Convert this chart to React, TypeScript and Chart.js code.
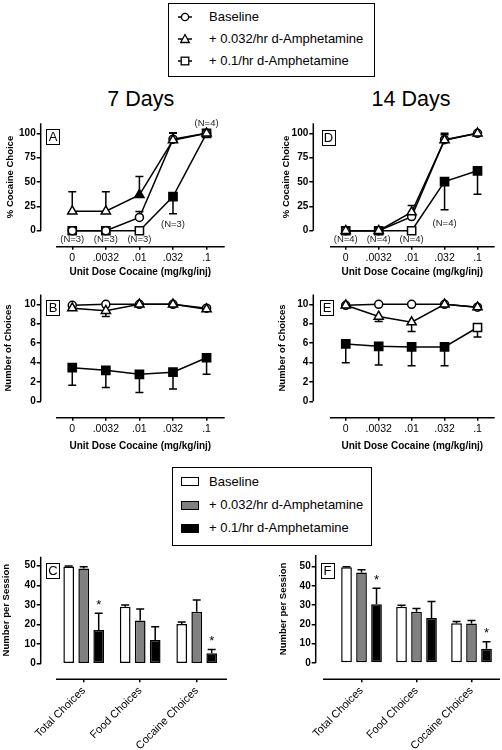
import React, { useEffect, useRef } from 'react';
import { Chart, registerables } from 'chart.js';
Chart.register(...registerables);

const FONT = "'Liberation Sans', Arial, Helvetica, sans-serif";
Chart.defaults.font.family = FONT;
Chart.defaults.color = '#000';

// ---------------- data ----------------
const SERIES_NAMES = ['Baseline', '+ 0.032/hr d-Amphetamine', '+ 0.1/hr d-Amphetamine'];
const PANEL_TITLES = ['7 Days', '14 Days'];
const DOSE_LABELS = ['0', '.0032', '.01', '.032', '.1'];
const DOSE_AXIS_TITLE = 'Unit Dose Cocaine (mg/kg/inj)';
const PCT_TITLE = '% Cocaine Choice';
const NUM_TITLE = 'Number of Choices';
const SESSION_TITLE = 'Number per Session';
const PCT_TICKS = [0, 25, 50, 75, 100];
const NUM_TICKS = [0, 2, 4, 6, 8, 10];
const SESSION_TICKS = [0, 10, 20, 30, 40, 50];
const BAR_CATEGORIES = ['Total Choices', 'Food Choices', 'Cocaine Choices'];

// Panel A (7 days, % cocaine choice)
const A_BASE = [0, 0, 13.6, 94, 100];
const A_BASE_SEM = [0, 0, 6.2, 6, 0];
const A_LOW = [20, 20, 36.8, 93, 100];
const A_LOW_SEM = [20, 20, 18.8, 7.5, 0];
const A_LOW_SIG = [false, false, true, false, false];
const A_HIGH = [0, 0, 0, 35, 100];
const A_HIGH_SEM = [0, 0, 0, 17.6, 0];
const A_HIGH_SIG = [false, false, false, true, false];
const A_NOTES = [
  { i: 0, v: -8.8, t: '(N=3)' }, { i: 1, v: -8.8, t: '(N=3)' }, { i: 2, v: -8.8, t: '(N=3)' },
  { i: 3, v: 6.9, t: '(N=3)' }, { i: 4, v: 110.3, t: '(N=4)' },
];

// Panel D (14 days, % cocaine choice)
const D_BASE = [0, 0, 14.5, 93.5, 100];
const D_BASE_SEM = [0, 0, 3, 5, 0];
const D_LOW = [0, 0, 19, 93, 100];
const D_LOW_SEM = [0, 0, 7, 7, 0];
const D_LOW_SIG = [false, false, false, false, false];
const D_HIGH = [0, 0, 0, 50.5, 61.5];
const D_HIGH_SEM = [0, 0, 0, 29, 24];
const D_HIGH_SIG = [false, false, false, true, true];
const D_NOTES = [
  { i: 0, v: -8.8, t: '(N=4)' }, { i: 1, v: -8.8, t: '(N=4)' }, { i: 2, v: -8.8, t: '(N=4)' },
  { i: 3, v: 7.6, t: '(N=4)' },
];

// Panel B (7 days, number of choices)
const B_BASE = [9.9, 10, 10, 10, 9.6];
const B_BASE_SEM = [0.1, 0, 0, 0, 0.2];
const B_LOW = [9.6, 9.33, 10, 10, 9.5];
const B_LOW_SEM = [0.2, 0.6, 0, 0, 0.2];
const B_LOW_SIG = [false, false, false, false, false];
const B_HIGH = [3.47, 3.19, 2.78, 3.0, 4.49];
const B_HIGH_SEM = [1.81, 1.76, 1.86, 1.74, 1.7];
const B_HIGH_SIG = [true, true, true, true, true];

// Panel E (14 days, number of choices)
const E_BASE = [9.9, 10, 10, 10, 9.7];
const E_BASE_SEM = [0.1, 0, 0, 0, 0.1];
const E_LOW = [9.9, 8.74, 8.16, 10, 9.7];
const E_LOW_SEM = [0.1, 0.51, 0.96, 0, 0.1];
const E_LOW_SIG = [false, false, false, false, false];
const E_HIGH = [5.92, 5.67, 5.61, 5.61, 7.61];
const E_HIGH_SEM = [1.94, 1.94, 1.94, 1.94, 0.98];
const E_HIGH_SIG = [true, true, true, true, false];

// Panel C (7 days, bars)
const C_BASE = [49.6, 29.1, 20.3];
const C_BASE_SEM = [0.3, 0.8, 1.0];
const C_LOW = [48.6, 22.1, 26.5];
const C_LOW_SEM = [0.9, 5.8, 6.0];
const C_HIGH = [17.2, 12.1, 5.3];
const C_HIGH_SEM = [8.5, 6.8, 2.0];
const C_SIG = [true, false, true];

// Panel F (14 days, bars)
const F_BASE = [49.6, 29.1, 20.6];
const F_BASE_SEM = [0.3, 0.8, 0.9];
const F_LOW = [46.9, 26.5, 20.4];
const F_LOW_SEM = [1.5, 1.8, 1.6];
const F_HIGH = [30.5, 23.3, 7.4];
const F_HIGH_SEM = [8.3, 8.6, 3.6];
const F_SIG = [true, false, true];

// ---------------- styles / geometry ----------------
const BAR_COLORS = ['#ffffff', '#808080', '#000000'];
const SHAPES = [
  { style: 'circle', radius: 4, order: 2 },
  { style: 'triangle', radius: 5.3, order: 1 },
  { style: 'rect', radius: 5.8, order: 3 },
];

type Geo = {
  cl: number; ct: number; cw: number; ch: number;
  axisX: number; plotTop: number; lineY: number; plotRight: number;
  xMin: number; xMax: number; yMin: number; yMax: number;
  lineStart: number; yTitleX: number; xTitleY: number;
};

const GEO_A: Geo = { cl: 0, ct: 110, cw: 232, ch: 170, axisX: 40.7, plotTop: 123.3, lineY: 246.7, plotRight: 225.9, xMin: -0.94, xMax: 4.54, yMin: -16.4, yMax: 110.3, lineStart: 56, yTitleX: 10.8, xTitleY: 272.5 };
const GEO_D: Geo = { cl: 272, ct: 110, cw: 230, ch: 170, axisX: 313.3, plotTop: 123.3, lineY: 246.7, plotRight: 500, xMin: -0.985, xMax: 4.522, yMin: -16.4, yMax: 110.3, lineStart: 330, yTitleX: 286, xTitleY: 272.5 };
const GEO_B: Geo = { cl: 0, ct: 285, cw: 232, ch: 170, axisX: 40.7, plotTop: 294.6, lineY: 417.7, plotRight: 225.9, xMin: -0.94, xMax: 4.54, yMin: -1.69, yMax: 11, lineStart: 56, yTitleX: 8.3, xTitleY: 446 };
const GEO_E: Geo = { cl: 272, ct: 285, cw: 230, ch: 170, axisX: 313.3, plotTop: 294.6, lineY: 417.7, plotRight: 500, xMin: -0.985, xMax: 4.522, yMin: -1.69, yMax: 11, lineStart: 330, yTitleX: 282, xTitleY: 446 };
const GEO_C: Geo = { cl: 0, ct: 548, cw: 234, ch: 202, axisX: 40.7, plotTop: 556.7, lineY: 679.3, plotRight: 227, xMin: -0.761, xMax: 2.536, yMin: -7.96, yMax: 54.6, lineStart: 56, yTitleX: 6.3, xTitleY: 0 };
const GEO_F: Geo = { cl: 272, ct: 548, cw: 230, ch: 202, axisX: 315.7, plotTop: 554, lineY: 679.3, plotRight: 500, xMin: -0.833, xMax: 2.518, yMin: -8.5, yMax: 56, lineStart: 323, yTitleX: 283, xTitleY: 0 };

type Err = { values: number[]; sem: number[]; dir: 'up' | 'down' };
type Note = { i: number; v: number; t: string };

function makePlugin(geo: Geo, errs: Err[], yTitle: string, xTitle: string | null, notes: Note[], stars: boolean[] | null) {
  return {
    id: 'prism',
    beforeDatasetsDraw(chart: any) {
      const ctx = chart.ctx;
      const ys = chart.scales.y;
      ctx.save();
      ctx.strokeStyle = '#000';
      ctx.lineWidth = 1.5;
      errs.forEach((e, d) => {
        const meta = chart.getDatasetMeta(d);
        meta.data.forEach((el: any, i: number) => {
          const s = e.sem[i];
          if (!s) return;
          const v = e.values[i] + (e.dir === 'up' ? s : -s);
          const yp = ys.getPixelForValue(v);
          ctx.beginPath();
          ctx.moveTo(el.x, el.y);
          ctx.lineTo(el.x, yp);
          ctx.moveTo(el.x - 4, yp);
          ctx.lineTo(el.x + 4, yp);
          ctx.stroke();
        });
      });
      ctx.restore();
    },
    afterDraw(chart: any) {
      const ctx = chart.ctx;
      const ca = chart.chartArea;
      const ys = chart.scales.y;
      const xs = chart.scales.x;
      ctx.save();
      ctx.strokeStyle = '#000';
      ctx.lineWidth = 1.5;
      ctx.beginPath();
      ctx.moveTo(ca.left, ca.top);
      ctx.lineTo(ca.left, ys.getPixelForValue(0));
      ctx.moveTo(geo.lineStart - geo.cl, ca.bottom);
      ctx.lineTo(ca.right, ca.bottom);
      ctx.stroke();
      ctx.fillStyle = '#000';
      // y title
      const yc = (ca.top + ys.getPixelForValue(0)) / 2;
      ctx.save();
      ctx.translate(geo.yTitleX - geo.cl, yc);
      ctx.rotate(-Math.PI / 2);
      ctx.textAlign = 'center';
      ctx.textBaseline = 'middle';
      ctx.font = `bold 9.5px ${FONT}`;
      ctx.fillText(yTitle, 0, 0);
      ctx.restore();
      // x title
      if (xTitle) {
        ctx.textAlign = 'center';
        ctx.textBaseline = 'middle';
        ctx.font = `bold 10px ${FONT}`;
        ctx.fillText(xTitle, (geo.lineStart - geo.cl + ca.right) / 2, geo.xTitleY - geo.ct);
      }
      // notes
      ctx.font = `9.5px ${FONT}`;
      ctx.fillStyle = '#222';
      ctx.textAlign = 'center';
      ctx.textBaseline = 'middle';
      notes.forEach((n) => {
        ctx.fillText(n.t, xs.getPixelForValue(n.i), ys.getPixelForValue(n.v));
      });
      // stars
      if (stars) {
        ctx.fillStyle = '#000';
        ctx.font = `13px ${FONT}`;
        const meta = chart.getDatasetMeta(2);
        const e = errs[2];
        meta.data.forEach((el: any, i: number) => {
          if (!stars[i]) return;
          const yp = ys.getPixelForValue(e.values[i] + e.sem[i]);
          ctx.fillText('*', el.x, yp - 8);
        });
      }
      ctx.restore();
    },
  };
}

function baseScales(geo: Geo, xLabels: string[], yTicks: number[], xTickOpts: any) {
  return {
    x: {
      type: 'linear', min: geo.xMin, max: geo.xMax, bounds: 'data', offset: false,
      afterBuildTicks: (s: any) => { s.ticks = xLabels.map((_, i) => ({ value: i })); },
      afterFit: (s: any) => { s.height = geo.ct + geo.ch - geo.lineY; },
      ticks: { callback: (_v: any, i: number) => xLabels[i], autoSkip: false, color: '#000', ...xTickOpts },
      grid: { display: true, offset: false, drawOnChartArea: false, drawTicks: true, tickLength: 3, color: '#000', lineWidth: 1.5 },
      border: { display: false },
    },
    y: {
      type: 'linear', min: geo.yMin, max: geo.yMax, bounds: 'data',
      afterBuildTicks: (s: any) => { s.ticks = yTicks.map((v) => ({ value: v })); },
      afterFit: (s: any) => { s.width = geo.axisX - geo.cl; },
      ticks: { callback: (v: any) => String(v), padding: 1, font: { size: 10, weight: 'bold' }, color: '#000' },
      grid: { display: true, drawOnChartArea: false, drawTicks: true, tickLength: 4, color: '#000', lineWidth: 1.5 },
      border: { display: false },
    },
  };
}

function baseOptions(geo: Geo) {
  return {
    responsive: false,
    animation: false,
    devicePixelRatio: 1,
    events: [],
    layout: { padding: { top: geo.plotTop - geo.ct, right: geo.cl + geo.cw - geo.plotRight, left: 0, bottom: 0 } },
    plugins: { legend: { display: false }, tooltip: { enabled: false } },
  };
}

function lineConfig(geo: Geo, vals: number[][], sems: number[][], sigs: boolean[][], dirs: ('up' | 'down')[], yTicks: number[], yTitle: string, notes: Note[]) {
  const errs: Err[] = vals.map((v, d) => ({ values: v, sem: sems[d], dir: dirs[d] }));
  return {
    type: 'line',
    data: {
      datasets: vals.map((v, d) => ({
        label: SERIES_NAMES[d],
        data: v.map((y, i) => ({ x: i, y })),
        borderColor: '#000',
        borderWidth: 1.5,
        pointStyle: SHAPES[d].style,
        pointRadius: SHAPES[d].radius,
        pointHoverRadius: SHAPES[d].radius,
        pointBorderWidth: 1.5,
        pointBorderColor: '#000',
        pointBackgroundColor: sigs[d].map((f) => (f ? '#000' : '#fff')),
        order: SHAPES[d].order,
        clip: false,
        tension: 0,
      })),
    },
    options: {
      ...baseOptions(geo),
      scales: baseScales(geo, DOSE_LABELS, yTicks, { maxRotation: 0, minRotation: 0, padding: 2, font: { size: 10.5 } }),
    },
    plugins: [makePlugin(geo, errs, yTitle, DOSE_AXIS_TITLE, notes, null)],
  };
}

function barConfig(geo: Geo, vals: number[][], sems: number[][], stars: boolean[], catPct: number) {
  const errs: Err[] = vals.map((v, d) => ({ values: v, sem: sems[d], dir: 'up' }));
  return {
    type: 'bar',
    data: {
      datasets: vals.map((v, d) => ({
        label: SERIES_NAMES[d],
        data: v.map((y, i) => ({ x: i, y })),
        backgroundColor: BAR_COLORS[d],
        borderColor: '#000',
        borderWidth: 1.5,
        borderSkipped: false,
        categoryPercentage: catPct,
        barPercentage: 0.713,
      })),
    },
    options: {
      ...baseOptions(geo),
      scales: baseScales(geo, BAR_CATEGORIES, SESSION_TICKS, { maxRotation: 45, minRotation: 45, padding: 2, font: { size: 11 } }),
    },
    plugins: [makePlugin(geo, errs, SESSION_TITLE, null, [], stars)],
  };
}

function ChartBox({ geo, make }: { geo: Geo; make: () => any }) {
  const ref = useRef<HTMLCanvasElement>(null);
  useEffect(() => {
    const chart = new Chart(ref.current as HTMLCanvasElement, make());
    return () => chart.destroy();
  }, []);
  return (
    <canvas
      ref={ref}
      width={geo.cw}
      height={geo.ch}
      style={{ position: 'absolute', left: geo.cl, top: geo.ct, width: geo.cw, height: geo.ch }}
    />
  );
}

function LineSymbol({ shape, cx, cy }: { shape: number; cx: number; cy: number }) {
  return (
    <svg width={16} height={12} style={{ position: 'absolute', left: cx - 8, top: cy - 6 }}>
      <line x1={1} y1={6} x2={15} y2={6} stroke="#000" strokeWidth={1.5} />
      {shape === 0 && <circle cx={8} cy={6} r={3.6} fill="#fff" stroke="#000" strokeWidth={1.3} />}
      {shape === 1 && <polygon points="8,1.5 12.3,9.5 3.7,9.5" fill="#fff" stroke="#000" strokeWidth={1.3} />}
      {shape === 2 && <rect x={4.2} y={2.2} width={7.6} height={7.6} fill="#fff" stroke="#000" strokeWidth={1.3} />}
    </svg>
  );
}

function PanelLetter({ letter, x, y }: { letter: string; x: number; y: number }) {
  return (
    <div style={{
      position: 'absolute', left: x, top: y, width: 14, height: 16, boxSizing: 'border-box',
      border: '1.5px solid #000', fontSize: 13, lineHeight: '13px', textAlign: 'center', fontFamily: FONT,
    }}>{letter}</div>
  );
}

const TOP_ROWS = [16.5, 38.5, 60.5];
const BOTTOM_ROWS = [481.7, 505, 528.3];

export default function App() {
  return (
    <div style={{ position: 'absolute', left: 0, top: 0, width: 502, height: 750, background: '#fff', fontFamily: FONT, color: '#000', overflow: 'hidden' }}>
      {/* top legend */}
      <div style={{ position: 'absolute', left: 168, top: 3, width: 207, height: 74, border: '1.5px solid #000', boxSizing: 'border-box' }} />
      {SERIES_NAMES.map((n, i) => (
        <React.Fragment key={'tl' + i}>
          <LineSymbol shape={i} cx={185} cy={TOP_ROWS[i]} />
          <div style={{ position: 'absolute', left: 209, top: TOP_ROWS[i] - 8, lineHeight: '16px', fontSize: 13, whiteSpace: 'nowrap' }}>{n}</div>
        </React.Fragment>
      ))}

      {/* titles */}
      <div style={{ position: 'absolute', left: 80.7, width: 120, top: 86.5, lineHeight: '24px', fontSize: 21.5, textAlign: 'center' }}>{PANEL_TITLES[0]}</div>
      <div style={{ position: 'absolute', left: 351, width: 120, top: 87, lineHeight: '24px', fontSize: 21.5, textAlign: 'center' }}>{PANEL_TITLES[1]}</div>

      <ChartBox geo={GEO_A} make={() => lineConfig(GEO_A, [A_BASE, A_LOW, A_HIGH], [A_BASE_SEM, A_LOW_SEM, A_HIGH_SEM], [[false, false, false, false, false], A_LOW_SIG, A_HIGH_SIG], ['up', 'up', 'down'], PCT_TICKS, PCT_TITLE, A_NOTES)} />
      <ChartBox geo={GEO_D} make={() => lineConfig(GEO_D, [D_BASE, D_LOW, D_HIGH], [D_BASE_SEM, D_LOW_SEM, D_HIGH_SEM], [[false, false, false, false, false], D_LOW_SIG, D_HIGH_SIG], ['up', 'up', 'down'], PCT_TICKS, PCT_TITLE, D_NOTES)} />
      <ChartBox geo={GEO_B} make={() => lineConfig(GEO_B, [B_BASE, B_LOW, B_HIGH], [B_BASE_SEM, B_LOW_SEM, B_HIGH_SEM], [[false, false, false, false, false], B_LOW_SIG, B_HIGH_SIG], ['up', 'down', 'down'], NUM_TICKS, NUM_TITLE, [])} />
      <ChartBox geo={GEO_E} make={() => lineConfig(GEO_E, [E_BASE, E_LOW, E_HIGH], [E_BASE_SEM, E_LOW_SEM, E_HIGH_SEM], [[false, false, false, false, false], E_LOW_SIG, E_HIGH_SIG], ['up', 'down', 'down'], NUM_TICKS, NUM_TITLE, [])} />
      <ChartBox geo={GEO_C} make={() => barConfig(GEO_C, [C_BASE, C_LOW, C_HIGH], [C_BASE_SEM, C_LOW_SEM, C_HIGH_SEM], C_SIG, 0.796)} />
      <ChartBox geo={GEO_F} make={() => barConfig(GEO_F, [F_BASE, F_LOW, F_HIGH], [F_BASE_SEM, F_LOW_SEM, F_HIGH_SEM], F_SIG, 0.818)} />

      {/* bottom legend */}
      <div style={{ position: 'absolute', left: 172, top: 467, width: 200, height: 79, border: '1.5px solid #000', boxSizing: 'border-box', background: '#fff' }} />
      {SERIES_NAMES.map((n, i) => (
        <React.Fragment key={'bl' + i}>
          <div style={{ position: 'absolute', left: 180.7, top: BOTTOM_ROWS[i] - 4.5, width: 18.6, height: 9, boxSizing: 'border-box', border: '1.3px solid #000', background: BAR_COLORS[i] }} />
          <div style={{ position: 'absolute', left: 209, top: BOTTOM_ROWS[i] - 8, lineHeight: '16px', fontSize: 13, whiteSpace: 'nowrap' }}>{n}</div>
        </React.Fragment>
      ))}

      <PanelLetter letter="A" x={46} y={129} />
      <PanelLetter letter="D" x={321.5} y={130} />
      <PanelLetter letter="B" x={46} y={300} />
      <PanelLetter letter="E" x={320} y={300} />
      <PanelLetter letter="C" x={46} y={562.5} />
      <PanelLetter letter="F" x={320.5} y={562.5} />
    </div>
  );
}
